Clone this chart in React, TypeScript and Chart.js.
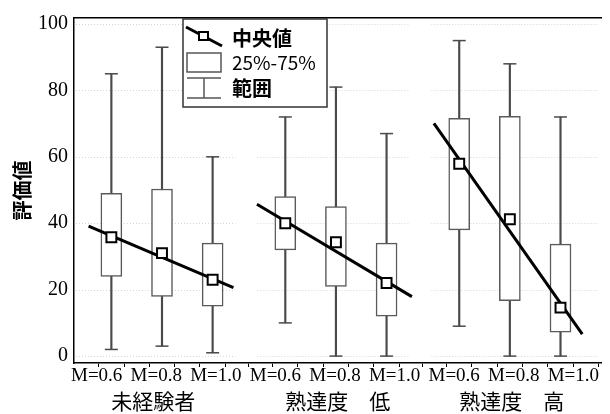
import React, { useEffect, useRef } from "react";
import { Chart, registerables } from "chart.js";

Chart.register(...registerables);

// ---------- data ----------
const categories = ["M=0.6", "M=0.8", "M=1.0"];
const groups = ["未経験者", "熟達度　低", "熟達度　高"];
const medians = [35.8, 31, 23, 40, 34.3, 22, 57.9, 41.2, 14.6];
const q1 = [24, 18, 15, 32, 21, 12, 38, 16.7, 7.2];
const q3 = [49, 50.3, 34, 48, 45, 34, 71.6, 72.2, 33.7];
const mins = [2, 3, 1, 10, 0, 0, 9, 0, 0];
const maxs = [85, 93, 60, 72, 81, 67, 95, 88, 72];
const fitStartY = [39.1, 45.7, 70.1];
const fitEndY = [20.6, 17.9, 6.6];
const fitStartX = [-0.45, -0.56, -0.5];
const fitEndX = [2.41, 2.5, 2.43];
const yTicks = [0, 20, 40, 60, 80, 100];
const legendLabels = ["中央値", "25%-75%", "範囲"];
const yTitle = "評価値";

// ---------- layout constants ----------
const GROUP_STEP = 3.435;
const X_MIN = -0.738;
const X_MAX = 9.67;
const Y_MIN = -2.08;
const Y_MAX = 101.8;
const LABEL_START = -0.29;
const LABEL_STEP = 1.1767;
const SERIF = "'Liberation Serif', 'Times New Roman', serif";
const SANS = "'Noto Sans CJK JP', 'Noto Sans', sans-serif";

const pos = (g: number, i: number) => g * GROUP_STEP + i;
const idxPos = (k: number) => pos(Math.floor(k / 3), k % 3);

const tickOffsets = [-0.5, 0, 0.5, 1, 1.5, 2, 2.5];

const panelGridPlugin = {
  id: "panelGrid",
  beforeDatasetsDraw(chart: any) {
    const { ctx, chartArea, scales } = chart;
    const xs = scales.x;
    const ys = scales.y;
    ctx.save();
    ctx.strokeStyle = "#d6d6d6";
    ctx.lineWidth = 1;
    ctx.setLineDash([1, 2]);
    groups.forEach((_, g) => {
      const x0 = g === 0 ? chartArea.left + 2 : xs.getPixelForValue(pos(g, -0.55));
      const x1 = g === groups.length - 1 ? chartArea.right - 2 : xs.getPixelForValue(pos(g, 2.45));
      yTicks.forEach((v) => {
        const y = Math.round(ys.getPixelForValue(v)) + 0.5;
        ctx.beginPath();
        ctx.moveTo(x0, y);
        ctx.lineTo(x1, y);
        ctx.stroke();
      });
    });
    ctx.restore();
  },
};

const legendPlugin = {
  id: "boxLegend",
  afterDraw(chart: any) {
    const { ctx } = chart;
    ctx.save();
    ctx.fillStyle = "#fff";
    ctx.fillRect(183, 19, 144, 88);
    ctx.strokeStyle = "#333";
    ctx.lineWidth = 1.5;
    ctx.strokeRect(183, 19, 144, 88);
    // median symbol
    ctx.strokeStyle = "#000";
    ctx.lineWidth = 3;
    ctx.beginPath();
    ctx.moveTo(186, 27);
    ctx.lineTo(222, 46);
    ctx.stroke();
    ctx.fillStyle = "#fff";
    ctx.lineWidth = 2;
    ctx.fillRect(199, 32, 9, 8);
    ctx.strokeRect(199, 32, 9, 8);
    // box symbol
    ctx.strokeStyle = "#555";
    ctx.lineWidth = 1.5;
    ctx.strokeRect(187, 53, 34, 19);
    // range symbol
    ctx.beginPath();
    ctx.moveTo(187, 78);
    ctx.lineTo(221, 78);
    ctx.moveTo(204, 78);
    ctx.lineTo(204, 98);
    ctx.moveTo(187, 98);
    ctx.lineTo(221, 98);
    ctx.stroke();
    // texts
    ctx.fillStyle = "#000";
    ctx.textBaseline = "middle";
    ctx.textAlign = "left";
    ctx.font = `bold 20px ${SANS}`;
    ctx.fillText(legendLabels[0], 232, 38);
    ctx.font = `19px ${SANS}`;
    ctx.fillText(legendLabels[1], 232, 63);
    ctx.font = `bold 20px ${SANS}`;
    ctx.fillText(legendLabels[2], 232, 88);
    ctx.restore();
  },
};

export default function App() {
  const canvasRef = useRef<HTMLCanvasElement | null>(null);

  useEffect(() => {
    document.body.style.margin = "0";
    const canvas = canvasRef.current;
    if (!canvas) return;

    const n = medians.length;
    const whiskerData = Array.from({ length: n }, (_, k) => ({ x: idxPos(k), y: [mins[k], maxs[k]] }));
    const capData = [
      ...Array.from({ length: n }, (_, k) => ({ x: idxPos(k), y: maxs[k] })),
      ...Array.from({ length: n }, (_, k) => ({ x: idxPos(k), y: mins[k] })),
    ];
    const boxData = Array.from({ length: n }, (_, k) => ({ x: idxPos(k), y: [q1[k], q3[k]] }));
    const medianData = Array.from({ length: n }, (_, k) => ({ x: idxPos(k), y: medians[k] }));
    const fitSets = groups.map((_, g) => ({
      type: "line" as const,
      data: [
        { x: pos(g, fitStartX[g]), y: fitStartY[g] },
        { x: pos(g, fitEndX[g]), y: fitEndY[g] },
      ],
      borderColor: "#000",
      borderWidth: 3,
      pointRadius: 0,
      fill: false,
      order: 2,
    }));

    const common = { type: "linear", min: X_MIN, max: X_MAX, offset: false, position: "bottom" };

    const chart = new Chart(canvas, {
      type: "bar",
      data: {
        datasets: [
          {
            type: "bar",
            data: whiskerData as any,
            backgroundColor: "#4a4a4a",
            borderWidth: 0,
            barThickness: 1.5,
            grouped: false,
            order: 5,
          },
          {
            type: "scatter",
            data: capData,
            pointStyle: "line",
            pointRadius: 6.5,
            borderColor: "#4a4a4a",
            borderWidth: 1.5,
            order: 4,
          },
          {
            type: "bar",
            data: boxData as any,
            backgroundColor: "#fff",
            borderColor: "#5a5a5a",
            borderWidth: 1.5,
            borderSkipped: false,
            barThickness: 21,
            grouped: false,
            order: 3,
          },
          ...fitSets,
          {
            type: "scatter",
            data: medianData,
            pointStyle: "rect",
            pointRadius: 7,
            backgroundColor: "#fff",
            borderColor: "#000",
            borderWidth: 2,
            order: 1,
          },
        ] as any,
      },
      options: {
        animation: false,
        responsive: false,
        layout: { padding: { top: 14, left: 0, right: 0, bottom: 0 } },
        plugins: { legend: { display: false }, tooltip: { enabled: false } },
        scales: {
          x: {
            ...common,
            weight: 0,
            afterBuildTicks: (s: any) => {
              const t: any[] = [];
              groups.forEach((_, g) => tickOffsets.forEach((o) => t.push({ value: pos(g, o) })));
              s.ticks = t;
            },
            afterFit: (s: any) => {
              s.height = 4;
            },
            ticks: { display: false, autoSkip: false },
            grid: { drawOnChartArea: false, drawTicks: true, tickLength: 4, color: "#000", lineWidth: 1 },
            border: { display: true, color: "#000", width: 1.5 },
          },
          xm: {
            ...common,
            weight: 1,
            afterBuildTicks: (s: any) => {
              s.ticks = Array.from({ length: groups.length * categories.length }, (_, k) => ({
                value: LABEL_START + k * LABEL_STEP,
              }));
            },
            afterFit: (s: any) => {
              s.height = 20;
            },
            ticks: {
              autoSkip: false,
              maxRotation: 0,
              minRotation: 0,
              padding: 0,
              color: "#000",
              font: { family: SERIF, size: 19, lineHeight: 1 },
              callback: (_v: any, i: number) => categories[i % categories.length],
            },
            grid: { display: false, drawTicks: false },
            border: { display: false },
          },
          x2: {
            ...common,
            weight: 2,
            afterBuildTicks: (s: any) => {
              s.ticks = groups.map((_, g) => ({ value: pos(g, 0) }));
            },
            afterFit: (s: any) => {
              s.height = 27;
            },
            ticks: {
              autoSkip: false,
              maxRotation: 0,
              minRotation: 0,
              align: "start",
              padding: 3.5,
              color: "#000",
              font: { family: SANS, size: 21, lineHeight: 1 },
              callback: (_v: any, i: number) => groups[i],
            },
            grid: { display: false, drawTicks: false },
            border: { display: false },
          },
          xTop: {
            ...common,
            position: "top",
            afterFit: (s: any) => {
              s.height = 0;
            },
            ticks: { display: false },
            grid: { display: false, drawTicks: false },
            border: { display: true, color: "#000", width: 1.5 },
          },
          y: {
            type: "linear",
            min: Y_MIN,
            max: Y_MAX,
            afterBuildTicks: (s: any) => {
              s.ticks = yTicks.map((v) => ({ value: v }));
            },
            afterFit: (s: any) => {
              s.width = 74;
            },
            ticks: {
              padding: 6,
              color: "#000",
              font: { family: SERIF, size: 20 },
            },
            grid: { display: false, drawTicks: false },
            border: { display: true, color: "#000", width: 1.5 },
            title: {
              display: true,
              text: yTitle,
              color: "#000",
              font: { family: SANS, size: 20, weight: "bold" },
              padding: { top: 10, bottom: 0 },
            },
          },
        },
      } as any,
      plugins: [panelGridPlugin, legendPlugin],
    });

    return () => chart.destroy();
  }, []);

  return (
    <div style={{ width: 610, height: 414, background: "#fff" }}>
      <canvas ref={canvasRef} width={610} height={414} />
    </div>
  );
}
